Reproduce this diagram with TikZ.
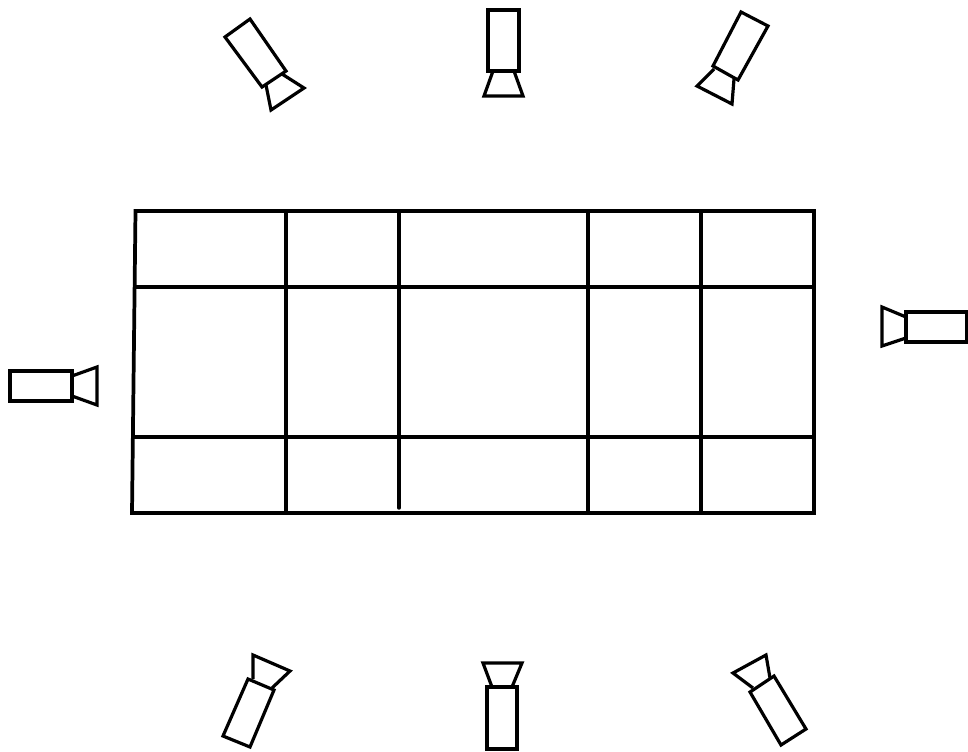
\documentclass[tikz,border=0pt]{standalone}
\tikzset{
  cambody/.style={draw=black,line width=2.4pt,line join=miter},
  gridline/.style={draw=black,line width=2.6pt,line cap=round},
  gridframe/.style={draw=black,line width=2.8pt,line join=miter}
}
\begin{document}
\begin{tikzpicture}[x=0.75pt,y=-0.75pt]
\useasboundingbox (0,0) rectangle (968,751);
% grid
\draw[gridline] (135,287) -- (812,287);
\draw[gridline] (134,437) -- (812,437);
\draw[gridline] (286,211) -- (286,513);
\draw[gridline] (399,211) -- (399,508);
\draw[gridline] (588,211) -- (588,513);
\draw[gridline] (701,211) -- (701,513);
\draw[gridframe] (135.5,211) -- (814,211) -- (814,513) -- (132,513) -- cycle;
% cameras: top row
\draw[cambody] (266,85) -- (271,110) -- (304,88) -- (282,74);
\draw[cambody] (250,19) -- (225,37) -- (262,87) -- (286,71) -- cycle;
\draw[cambody] (493,71) -- (484,96) -- (523,96) -- (514,71);
\draw[cambody] (488,10) rectangle (519,71);
\draw[cambody] (714,69) -- (697,86) -- (732,104) -- (734,79);
\draw[cambody] (741,12) -- (768,26) -- (738,80) -- (713,66) -- cycle;
% sides
\draw[cambody] (72,376) -- (97,367) -- (97,405) -- (72,396);
\draw[cambody] (10,371) rectangle (72,401);
\draw[cambody] (906,317) -- (882,307) -- (882,346) -- (906,338);
\draw[cambody] (906,312) rectangle (967,342);
% bottom row
\draw[cambody] (253,679) -- (253,655) -- (290,671) -- (272,688);
\draw[cambody] (248,679) -- (274,690) -- (250,747) -- (223,736) -- cycle;
\draw[cambody] (492,687) -- (483,663) -- (522,663) -- (512,687);
\draw[cambody] (487,687) rectangle (517,749);
\draw[cambody] (753,688) -- (733,673) -- (766,655) -- (770,678);
\draw[cambody] (750,692) -- (774,676) -- (806,729) -- (781,745) -- cycle;
\end{tikzpicture}
\end{document}
